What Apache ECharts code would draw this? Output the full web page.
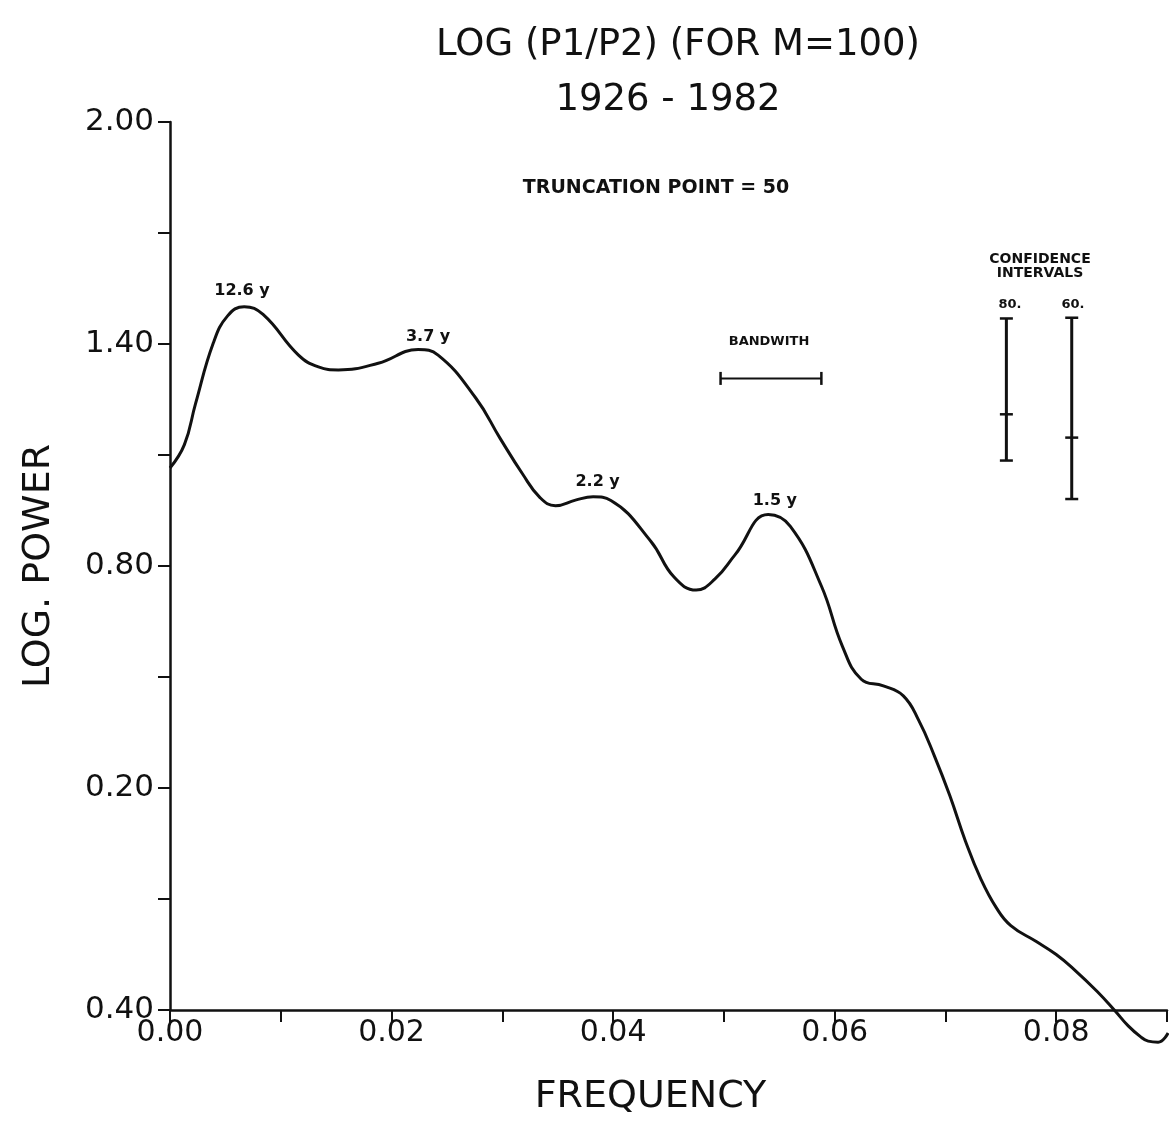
<!DOCTYPE html>
<html>
<head>
<meta charset="utf-8">
<script src="https://cdn.jsdelivr.net/npm/echarts@6/dist/echarts.min.js"></script>
<style>
  html, body { margin: 0; padding: 0; background: #fff; }
  #chart { width: 1170px; height: 1126px; }
</style>
</head>
<body>
<div id="chart"></div>
<script>
// ---- data ----
const freq = [0, 0.0013, 0.0023, 0.0039, 0.0052, 0.0067, 0.0084, 0.0116, 0.0134, 0.0152,
  0.0188, 0.0224, 0.0242, 0.0276, 0.0298, 0.0318, 0.0334, 0.0348, 0.0366, 0.0382,
  0.0398, 0.0434, 0.0455, 0.0475, 0.0492, 0.0510, 0.0540, 0.0560, 0.0588, 0.0607,
  0.0624, 0.0644, 0.0662, 0.0676, 0.0690, 0.0704, 0.0718, 0.0732, 0.0746, 0.0759,
  0.0782, 0.0800, 0.0816, 0.0837, 0.0853, 0.0865, 0.0876, 0.0883, 0.0892, 0.0901];
const logPower = [1.065, 1.128, 1.238, 1.402, 1.476, 1.501, 1.480, 1.370, 1.338, 1.330,
  1.348, 1.385, 1.370, 1.254, 1.145, 1.050, 0.985, 0.963, 0.978, 0.987,
  0.977, 0.867, 0.770, 0.735, 0.765, 0.830, 0.939, 0.907, 0.746, 0.583,
  0.494, 0.476, 0.449, 0.382, 0.287, 0.179, 0.057, -0.046, -0.124, -0.172,
  -0.215, -0.250, -0.290, -0.350, -0.402, -0.443, -0.472, -0.484, -0.487, -0.462];

const peakNames = ['12.6 y', '3.7 y', '2.2 y', '1.5 y'];
const peakX = [0.0065, 0.0233, 0.0386, 0.0546];
const peakY = [1.544, 1.418, 1.028, 0.975];

const bandX = [0.0497, 0.0588];
const bandY = 1.307;

const ciNames = ['80.', '60.'];
const ciX = [0.0755, 0.0814];
const ciTop = [1.469, 1.471];
const ciMid = [1.210, 1.147];
const ciLow = [1.085, 0.981];

const xTicks = [0, 0.01, 0.02, 0.03, 0.04, 0.05, 0.06, 0.07, 0.08, 0.09];
const xLabels = [0, 0.02, 0.04, 0.06, 0.08];
const yTicks = [-0.4, -0.1, 0.2, 0.5, 0.8, 1.1, 1.4, 1.7, 2.0];
const yLabels = [-0.4, 0.2, 0.8, 1.4, 2.0];

// ---- chart ----
const FONT = 'DejaVu Sans';
const INK = '#111';
const chart = echarts.init(document.getElementById('chart'), null, { renderer: 'canvas' });

const series = [
  {
    type: 'line',
    name: 'spectrum',
    data: freq.map((f, i) => [f, logPower[i]]),
    smooth: 0.45,
    symbol: 'none',
    clip: false,
    lineStyle: { color: INK, width: 3 },
    z: 5
  },
  {
    type: 'line',
    name: 'bandwidth',
    data: bandX.map(x => [x, bandY]),
    symbol: 'rect',
    symbolSize: [2.5, 13],
    itemStyle: { color: INK },
    lineStyle: { color: INK, width: 2 },
    clip: false
  },
  {
    type: 'scatter',
    name: 'peaks',
    data: peakX.map((x, i) => ({ value: [x, peakY[i]], name: peakNames[i] })),
    symbolSize: 0,
    itemStyle: { opacity: 1, color: INK },
    label: {
      show: true, position: 'inside', formatter: p => p.name,
      color: INK, opacity: 1, fontFamily: FONT, fontSize: 16, fontWeight: 'bold'
    },
    clip: false
  }
];
ciX.forEach((x, i) => {
  series.push({
    type: 'line',
    name: 'CI ' + ciNames[i],
    data: [[x, ciTop[i]], [x, ciMid[i]], [x, ciLow[i]]],
    symbol: 'rect',
    symbolSize: [13, 2.5],
    itemStyle: { color: INK },
    lineStyle: { color: INK, width: 3 },
    clip: false
  });
});

function smallBold(text, size) {
  return { text: text, fill: INK, font: 'bold ' + size + 'px "DejaVu Sans"', textAlign: 'center', textVerticalAlign: 'middle' };
}

chart.setOption({
  animation: false,
  backgroundColor: '#fff',
  grid: { left: 170, top: 122, width: 997, height: 888 },
  xAxis: {
    type: 'value', min: 0, max: 0.09,
    name: 'FREQUENCY', nameLocation: 'middle', nameGap: 68,
    nameTextStyle: { color: INK, fontFamily: FONT, fontSize: 38, padding: [0, 36, 0, 0] },
    axisLine: { show: true, onZero: false, lineStyle: { color: INK, width: 2.5 } },
    axisTick: { show: true, customValues: xTicks, length: 12, inside: false, lineStyle: { color: INK, width: 2 } },
    axisLabel: {
      show: true, customValues: xLabels, margin: 8,
      formatter: v => v.toFixed(2),
      color: INK, fontFamily: FONT, fontSize: 30
    },
    splitLine: { show: false }
  },
  yAxis: {
    type: 'value', min: -0.4, max: 2.0,
    name: 'LOG. POWER', nameLocation: 'middle', nameGap: 112, nameRotate: 90,
    nameTextStyle: { color: INK, fontFamily: FONT, fontSize: 38 },
    axisLine: { show: true, onZero: false, lineStyle: { color: INK, width: 2.5 } },
    axisTick: { show: true, customValues: yTicks, length: 12, inside: false, lineStyle: { color: INK, width: 2 } },
    axisLabel: {
      show: true, customValues: yLabels, margin: 16,
      formatter: v => Math.abs(v).toFixed(2),
      color: INK, fontFamily: FONT, fontSize: 31
    },
    splitLine: { show: false }
  },
  series: series,
  graphic: [
    { type: 'text', x: 678, y: 45, style: { text: 'LOG (P1/P2) (FOR M=100)', fill: INK, font: '37px "DejaVu Sans"', textAlign: 'center', textVerticalAlign: 'middle' } },
    { type: 'text', x: 668, y: 100, style: { text: '1926 - 1982', fill: INK, font: '37px "DejaVu Sans"', textAlign: 'center', textVerticalAlign: 'middle' } },
    { type: 'text', x: 656, y: 188, style: smallBold('TRUNCATION POINT = 50', 19) },
    { type: 'text', x: 769, y: 342, style: smallBold('BANDWITH', 13) },
    { type: 'text', x: 1040, y: 259, style: smallBold('CONFIDENCE', 14) },
    { type: 'text', x: 1040, y: 273, style: smallBold('INTERVALS', 14) },
    { type: 'text', x: 1010, y: 305, style: smallBold(ciNames[0], 13) },
    { type: 'text', x: 1073, y: 305, style: smallBold(ciNames[1], 13) }
  ]
});
</script>
</body>
</html>
